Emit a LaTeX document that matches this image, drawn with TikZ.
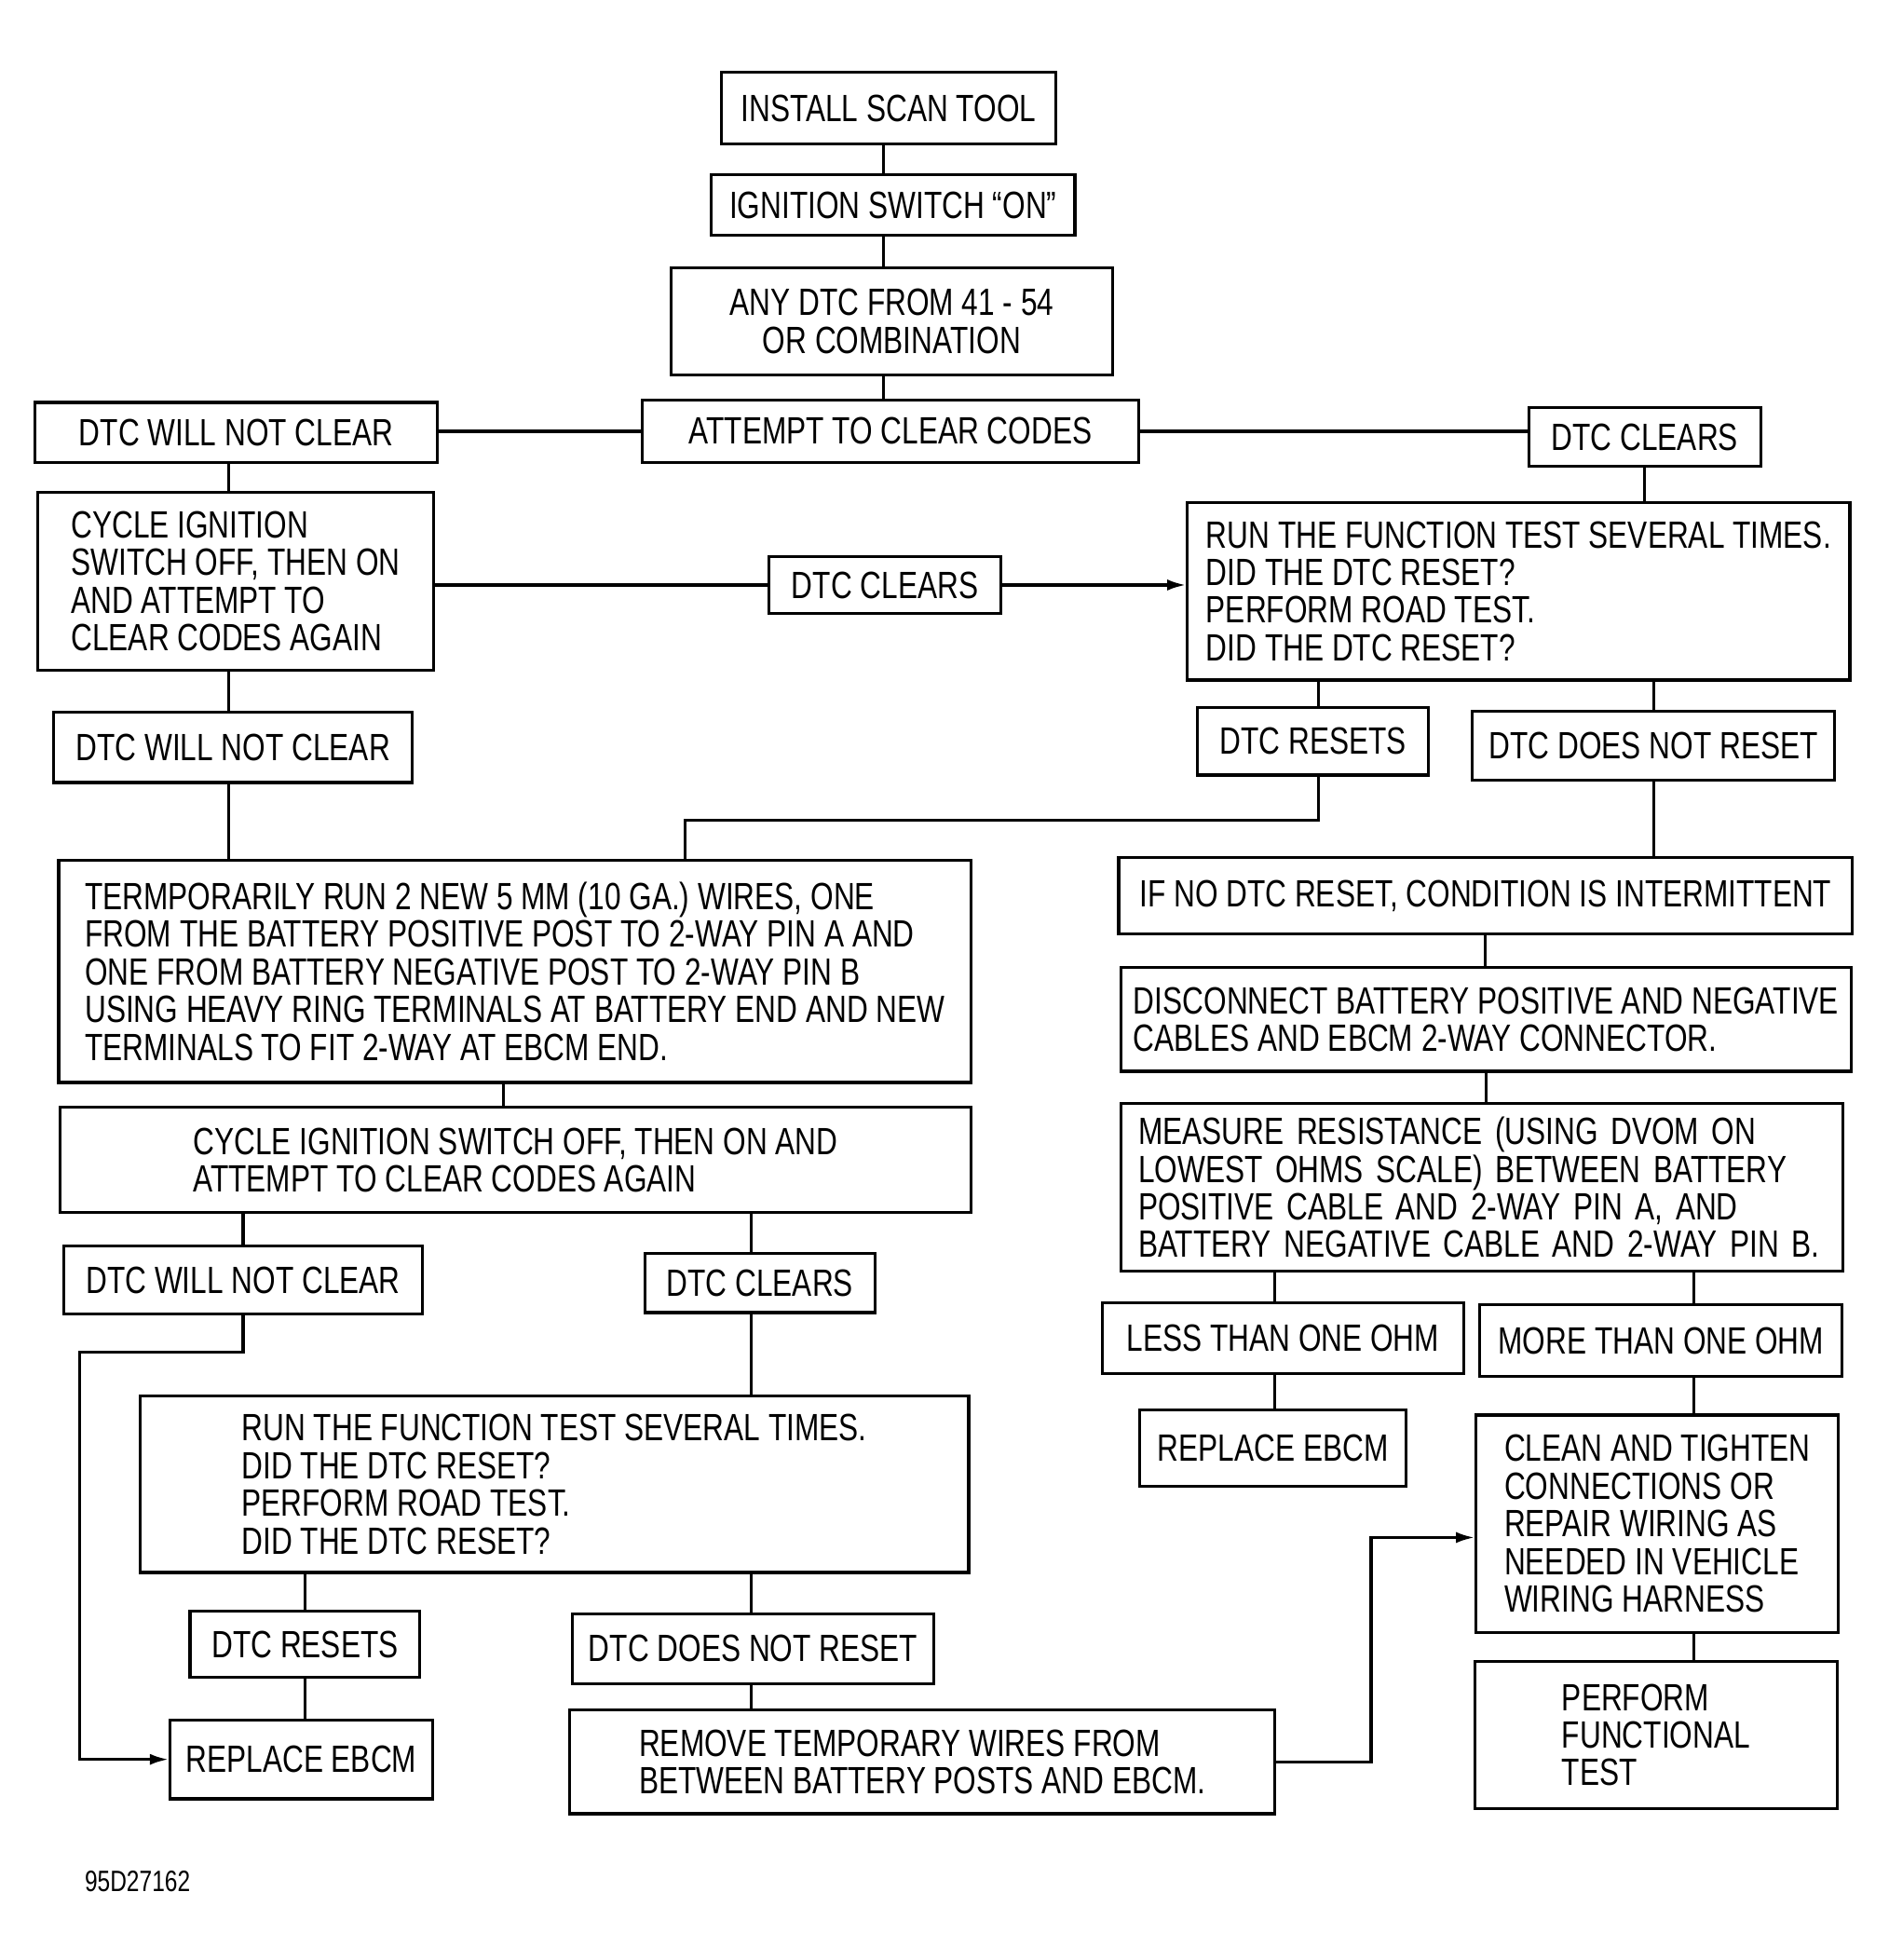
\documentclass[tikz,border=0pt]{standalone}
\usepackage{fontspec}
\setmainfont{Liberation Sans}[FakeStretch=0.775]
\usetikzlibrary{arrows.meta}

\begin{document}
\begin{tikzpicture}[x=0.01342cm, y=-0.01342cm, line width=0.9pt,
    box/.style={draw, align=left, inner sep=0pt, font=\fontsize{11.6}{11.5}\selectfont},
    wh/.style 2 args={minimum width=#1*0.01342cm, minimum height=#2*0.01342cm},
    arw/.style={-{Latex[length=2mm,width=1.2mm]}}]
\useasboundingbox (0,0) rectangle (1511,1568);
\node[box, wh={268}{57}] (install) at (711,86.5) {INSTALL SCAN TOOL};
\node[box, wh={291}{48}] (ignon) at (714.5,164) {IGNITION SWITCH ``ON''};
\node[box, align=center, wh={353}{86}] (anydtc) at (713.5,257) {ANY DTC FROM 41 - 54\\OR COMBINATION};
\node[box, wh={397}{50}] (attempt) at (712.5,345) {ATTEMPT TO CLEAR CODES};
\node[box, wh={322}{48}] (wnca) at (189,346) {DTC WILL NOT CLEAR};
\node[box, wh={186}{47}] (clra) at (1316,349.5) {DTC CLEARS};
\node[box, wh={317}{142}] (cyclea) at (188.5,465) {CYCLE IGNITION\\SWITCH OFF, THEN ON\\AND ATTEMPT TO\\CLEAR CODES AGAIN};
\node[box, wh={186}{46}] (clrb) at (708,468) {DTC CLEARS};
\node[box, wh={530}{142}] (runa) at (1215,473) {RUN THE FUNCTION TEST SEVERAL TIMES.\\DID THE DTC RESET?\\PERFORM ROAD TEST.\\DID THE DTC RESET?};
\node[box, wh={287}{56}] (wncb) at (186.5,598) {DTC WILL NOT CLEAR};
\node[box, wh={185}{54}] (rsta) at (1050.5,593) {DTC RESETS};
\node[box, wh={290}{55}] (dnra) at (1323,596.5) {DTC DOES NOT RESET};
\node[box, wh={730}{178}] (temp) at (412,777) {TERMPORARILY RUN 2 NEW 5 MM (10 GA.) WIRES, ONE\\FROM THE BATTERY POSITIVE POST TO 2-WAY PIN A AND\\ONE FROM BATTERY NEGATIVE POST TO 2-WAY PIN B\\USING HEAVY RING TERMINALS AT BATTERY END AND NEW\\TERMINALS TO FIT 2-WAY AT EBCM END.};
\node[box, wh={587}{61}] (ifno) at (1188.5,716.5) {IF NO DTC RESET, CONDITION IS INTERMITTENT};
\node[box, wh={584}{83}] (disc) at (1189,815.5) {DISCONNECT BATTERY POSITIVE AND NEGATIVE\\CABLES AND EBCM 2-WAY CONNECTOR.};
\node[box, wh={729}{84}] (cycleb) at (412.5,928) {CYCLE IGNITION SWITCH OFF, THEN ON AND\\ATTEMPT TO CLEAR CODES AGAIN};
\node[box, wh={577}{134}, text width=7.37cm, inner xsep=0.188cm] (meas) at (1185.5,950) {MEASURE RESISTANCE (USING DVOM ON\\LOWEST OHMS SCALE) BETWEEN BATTERY\\POSITIVE CABLE AND 2-WAY PIN A, AND\\BATTERY NEGATIVE CABLE AND 2-WAY PIN B.};
\node[box, wh={287}{54}] (wncc) at (194.5,1024) {DTC WILL NOT CLEAR};
\node[box, wh={184}{47}] (clrc) at (608,1026.5) {DTC CLEARS};
\node[box, wh={289}{57}] (less) at (1026.5,1070.5) {LESS THAN ONE OHM};
\node[box, wh={290}{57}] (more) at (1329,1072.5) {MORE THAN ONE OHM};
\node[box, wh={663}{141}] (runb) at (443.5,1187.5) {RUN THE FUNCTION TEST SEVERAL TIMES.\\DID THE DTC RESET?\\PERFORM ROAD TEST.\\DID THE DTC RESET?};
\node[box, wh={213}{61}] (repa) at (1018.5,1158.5) {REPLACE EBCM};
\node[box, wh={290}{174}] (clean) at (1326,1219) {CLEAN AND TIGHTEN\\CONNECTIONS OR\\REPAIR WIRING AS\\NEEDED IN VEHICLE\\WIRING HARNESS};
\node[box, wh={184}{53}] (rstb) at (244,1315.5) {DTC RESETS};
\node[box, wh={289}{56}] (dnrb) at (602.5,1319) {DTC DOES NOT RESET};
\node[box, wh={290}{118}] (perf) at (1325,1388) {PERFORM\\FUNCTIONAL\\TEST};
\node[box, wh={210}{63}] (repb) at (241,1407.5) {REPLACE EBCM};
\node[box, wh={564}{83}] (remove) at (738,1409.5) {REMOVE TEMPORARY WIRES FROM\\BETWEEN BATTERY POSTS AND EBCM.};
\node[font=\fontsize{9}{9}\selectfont] (figid) at (110,1505) {95D27162};
\coordinate (mx) at (707,0);
\coordinate (lx) at (183,0);
\coordinate (tmx) at (403,0);
\coordinate (cx) at (601,0);
\coordinate (ox) at (1020,0);
\coordinate (sx) at (1055,0);
\coordinate (rx) at (1355,0);
\coordinate (tx) at (548,656);
\coordinate (lp) at (64,1082);
\coordinate (rp) at (1097,1230);
\draw (install.south -| mx) -- (ignon.north -| mx);
\draw (ignon.south -| mx) -- (anydtc.north -| mx);
\draw (anydtc.south -| mx) -- (attempt.north -| mx);
\draw (attempt.west) -- (attempt.west -| wnca.east);
\draw (attempt.east) -- (attempt.east -| clra.west);
\draw (wnca.south -| lx) -- (cyclea.north -| lx);
\draw (clra.south) -- (clra.south |- runa.north);
\draw (clrb.west) -- (clrb.west -| cyclea.east);
\draw[arw] (clrb.east) -- (clrb.east -| runa.west);
\draw (cyclea.south -| lx) -- (wncb.north -| lx);
\draw (rsta.north -| sx) -- (runa.south -| sx);
\draw (dnra.north) -- (dnra.north |- runa.south);
\draw (wncb.south -| lx) -- (temp.north -| lx);
\draw (rsta.south -| sx) |- (tx) -- (tx |- temp.north);
\draw (dnra.south) -- (dnra.south |- ifno.north);
\draw (ifno.south) -- (ifno.south |- disc.north);
\draw (disc.south) -- (disc.south |- meas.north);
\draw (temp.south -| tmx) -- (cycleb.north -| tmx);
\draw (wncc.north) -- (wncc.north |- cycleb.south);
\draw (clrc.north -| cx) -- (cycleb.south -| cx);
\draw (less.north -| ox) -- (meas.south -| ox);
\draw (more.north -| rx) -- (meas.south -| rx);
\draw (clrc.south -| cx) -- (runb.north -| cx);
\draw (repa.north -| ox) -- (less.south -| ox);
\draw (more.south -| rx) -- (clean.north -| rx);
\draw[arw] (wncc.south) |- (lp) |- (repb.west);
\draw (rstb.north) -- (rstb.north |- runb.south);
\draw (dnrb.north -| cx) -- (runb.south -| cx);
\draw (rstb.south) -- (rstb.south |- repb.north);
\draw (dnrb.south -| cx) -- (remove.north -| cx);
\draw[arw] (remove.east) -| (rp) -- (rp -| clean.west);
\draw (clean.south -| rx) -- (perf.north -| rx);
\end{tikzpicture}
\end{document}
